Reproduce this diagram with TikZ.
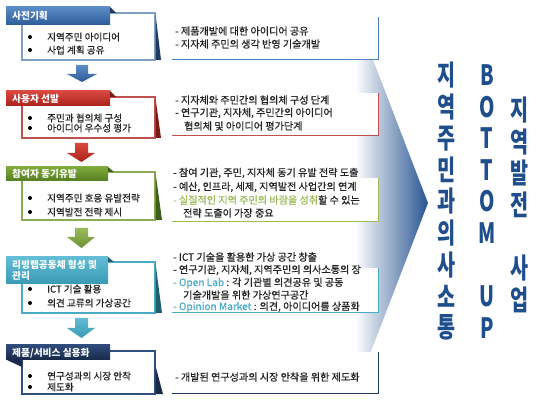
\documentclass[tikz,border=0pt]{standalone}
\usepackage{fontspec}
\setmainfont{Noto Sans CJK KR}
\newfontfamily\bodyfont{Noto Sans CJK KR}[FakeBold=0.6]
\usepackage{graphicx}
\definecolor{arrowblue}{HTML}{23508F}
\definecolor{bigtext}{HTML}{1F4E8C}
\definecolor{txt}{HTML}{222222}
\definecolor{c1}{HTML}{4F81BD}\definecolor{c1b}{HTML}{7F9FC4}\definecolor{c1d}{HTML}{1F3A60}\definecolor{c1t}{HTML}{5B8CC6}\definecolor{c1u}{HTML}{2D5D99}
\definecolor{c2}{HTML}{C0504D}\definecolor{c2b}{HTML}{C0504D}\definecolor{c2d}{HTML}{7A1A16}\definecolor{c2t}{HTML}{D9483F}\definecolor{c2u}{HTML}{A8231C}
\definecolor{c3}{HTML}{9BBB59}\definecolor{c3b}{HTML}{8AAA55}\definecolor{c3d}{HTML}{3F5F1F}\definecolor{c3t}{HTML}{7FAA3A}\definecolor{c3u}{HTML}{557F22}
\definecolor{c4}{HTML}{4BACC6}\definecolor{c4b}{HTML}{4BACC6}\definecolor{c4d}{HTML}{1E5F6E}\definecolor{c4t}{HTML}{62BCD4}\definecolor{c4u}{HTML}{3A9AB5}
\definecolor{c5}{HTML}{1F3864}\definecolor{c5b}{HTML}{2F4F7F}\definecolor{c5d}{HTML}{1A2B4A}\definecolor{c5t}{HTML}{2E4B7A}\definecolor{c5u}{HTML}{17294A}
\tikzset{
  bodytxt/.style={anchor=west,inner sep=0pt,text=txt,font=\bodyfont\fontsize{9.6}{11}\selectfont},
  desctxt/.style={anchor=west,inner sep=0pt,text=txt,font=\bodyfont\fontsize{10.1}{11}\selectfont},
  tabtxt/.style={anchor=west,inner sep=0pt,text=white,font=\fontsize{9.7}{11}\selectfont\bfseries},
  bigtxt/.style={inner sep=0pt,text=bigtext,font=\fontsize{28}{30}\selectfont\bfseries},
  dot/.style={fill=black},
  boxline/.style={line width=1.1pt},
  descline/.style={line width=1pt},
}
\newcommand{\nar}[1]{\scalebox{0.7}[1]{#1}}
\begin{document}
\begin{tikzpicture}[x=1pt,y=1pt]
\useasboundingbox (0,0) rectangle (549,-403);
\fill[white] (0,0) rectangle (549,-403);
% big gradient arrow
\begin{scope}
\clip (300,0) -- (350,0) -- (428,-203) -- (350,-406) -- (300,-406) -- cycle;
\shade[left color=white, right color=arrowblue] (355,0) rectangle (430,-406);
\end{scope}

% ---------- row 1
\fill[white] (165,-17) rectangle (378,-60);
\draw[descline,c1] (172,-60) -- (378,-60) -- (378,-17);
\draw[boxline,c1b,fill=white] (22,-13) rectangle (155,-60);
\fill[c1d] (155.5,-14) -- (161,-60) -- (155.5,-60) -- cycle;
\shade[top color=c1t,bottom color=c1u] (6,-7) rectangle (110,-25);
\fill[c1d] (110,-7) -- (116,-13) -- (110,-13) -- cycle;
\node[tabtxt] (t1) at (12,-16) {사전기획};
\fill[dot] (30,-37) circle (2); \node[bodytxt] (b11) at (47,-37) {지역주민 아이디어};
\fill[dot] (30,-50) circle (2); \node[bodytxt] (b12) at (47,-50) {사업 계획 공유};
\node[desctxt] (d11) at (175,-31) {- 제품개발에 대한 아이디어 공유};
\node[desctxt] (d12) at (175,-44) {- 지자체 주민의 생각 반영 기술개발};

% arrow 1
\shade[top color=c1t,bottom color=c1u] (76,-65) -- (88,-65) -- (88,-74) -- (97,-74) -- (82,-82) -- (67,-74) -- (76,-74) -- cycle;

% ---------- row 2
\fill[white] (165,-93) rectangle (378,-136);
\draw[descline,c2] (172,-136) -- (378,-136) -- (378,-93);
\draw[boxline,c2b,fill=white] (22,-97) rectangle (155,-138);
\fill[c2d] (155.5,-98) -- (161,-138) -- (155.5,-138) -- cycle;
\shade[top color=c2t,bottom color=c2u] (6,-91) rectangle (110,-106);
\fill[c2d] (110,-91) -- (116,-97) -- (110,-97) -- cycle;
\node[tabtxt] (t2) at (12,-99) {사용자 선발};
\fill[dot] (30,-118) circle (2); \node[bodytxt] (b21) at (47,-118) {주민과 협의체 구성};
\fill[dot] (30,-128) circle (2); \node[bodytxt] (b22) at (47,-128) {아이디어 우수성 평가};
\node[desctxt] (d21) at (175,-100) {- 지자체와 주민간의 협의체 구성 단계};
\node[desctxt] (d22) at (175,-113) {- 연구기관, 지자체, 주민간의 아이디어};
\node[desctxt] (d23) at (184,-126) {협의체 및 아이디어 평가단계};

% arrow 2
\shade[top color=c2t,bottom color=c2u] (75,-143) -- (88,-143) -- (88,-153) -- (95,-153) -- (81.5,-162) -- (67,-153) -- (75,-153) -- cycle;

% ---------- row 3
\fill[white] (165,-178) rectangle (378,-222);
\draw[descline,c3] (172,-222) -- (378,-222) -- (378,-178);
\draw[boxline,c3b,fill=white] (22,-172) rectangle (155,-220);
\fill[c3d] (155.5,-173) -- (162,-220) -- (155.5,-220) -- cycle;
\shade[top color=c3t,bottom color=c3u] (6,-167) rectangle (108,-181);
\fill[c3d] (108,-167) -- (114,-172) -- (108,-172) -- cycle;
\node[tabtxt] (t3) at (12,-174) {참여자 동기유발};
\fill[dot] (30,-198) circle (2); \node[bodytxt] (b31) at (47,-198) {지역주민 호응 유발전략};
\fill[dot] (30,-212) circle (2); \node[bodytxt] (b32) at (47,-212) {지역발전 전략 제시};
\node[desctxt] (d31) at (173,-173) {- 참여 기관, 주민, 지자체 동기 유발 전략 도출};
\node[desctxt] (d32) at (173,-187) {- 예산, 인프라, 세제, 지역발전 사업간의 연계};
\node[desctxt] (d33) at (173,-200) {\textcolor{c3}{- 실질적인 지역 주민의 바람을 성취}할 수 있는};
\node[desctxt] (d34) at (183,-213) {전략 도출이 가장 중요};

% arrow 3
\shade[top color=c3,bottom color=c3u!70!c3] (75,-228) -- (88,-228) -- (88,-237) -- (95,-237) -- (81.5,-248) -- (67,-237) -- (75,-237) -- cycle;

% ---------- row 4
\fill[white] (165,-268) rectangle (378,-313);
\draw[descline,c4] (172,-313) -- (378,-313) -- (378,-268);
\draw[boxline,c4b,fill=white] (22,-262) rectangle (155,-313);
\fill[c4d] (155.5,-263) -- (162,-313) -- (155.5,-313) -- cycle;
\shade[top color=c4t,bottom color=c4u] (6,-257) rectangle (108,-284);
\fill[c4d] (108,-257) -- (114,-262) -- (108,-262) -- cycle;
\node[tabtxt] (t4a) at (12,-265) {리빙랩공동체 형성 및};
\node[tabtxt] (t4b) at (12,-276) {관리};
\fill[dot] (30,-289) circle (2); \node[bodytxt] (b41) at (47,-289) {ICT 기술 활용};
\fill[dot] (30,-303) circle (2); \node[bodytxt] (b42) at (47,-303) {의견 교류의 가상공간};
\node[desctxt] (d41) at (173,-257) {- ICT 기술을 활용한 가상 공간 창출};
\node[desctxt] (d42) at (173,-270) {- 연구기관, 지자체, 지역주민의 의사소통의 장};
\node[desctxt] (d43) at (173,-283) {\textcolor{c4}{- Open Lab} : 각 기관별 의견공유 및 공동};
\node[desctxt] (d44) at (183,-295) {기술개발을 위한 가상연구공간};
\node[desctxt] (d45) at (173,-307) {\textcolor{c4}{- Opinion Market} : 의견, 아이디어를 상품화};

% arrow 4
\shade[top color=c4t,bottom color=c4u] (75,-318) -- (88,-318) -- (88,-328) -- (95,-328) -- (81.5,-338) -- (67,-328) -- (75,-328) -- cycle;

% ---------- row 5
\fill[white] (165,-352) rectangle (378,-393);
\draw[descline,c5] (172,-393) -- (378,-393) -- (378,-352);
\draw[boxline,c5b,fill=white] (22,-351) rectangle (155,-394);
\fill[c5d] (155.5,-366) -- (163,-394) -- (155.5,-394) -- cycle;
\shade[top color=c5t,bottom color=c5u] (6,-345) rectangle (110,-360);
\fill[c5d] (7,-360) -- (22,-360) -- (22,-367) -- cycle;
\node[tabtxt] (t5) at (12,-353) {제품/서비스 실용화};
\fill[dot] (30,-376) circle (2); \node[bodytxt] (b51) at (47,-376) {연구성과의 시장 안착};
\fill[dot] (30,-387) circle (2); \node[bodytxt] (b52) at (47,-387) {제도화};
\node[desctxt] (d51) at (175,-377) {- 개발된 연구성과의 시장 안착을 위한 제도화};

% ---------- big vertical texts
\foreach \ch [count=\i from 0] in {지,역,주,민,과,의,사,소,통}
  \node[bigtxt] (ca\i) at (447,-75-31.6*\i) {\nar{\ch}};
\foreach \ch [count=\i from 0] in {B,O,T,T,O,M,{},U,P}
  \node[bigtxt] (cb\i) at (487,-75-31.6*\i) {\nar{\ch}};
\foreach \ch [count=\i from 0] in {지,역,발,전,{},사,업}
  \node[bigtxt] (cc\i) at (520,-110-31.6*\i) {\nar{\ch}};
\end{tikzpicture}
\end{document}
